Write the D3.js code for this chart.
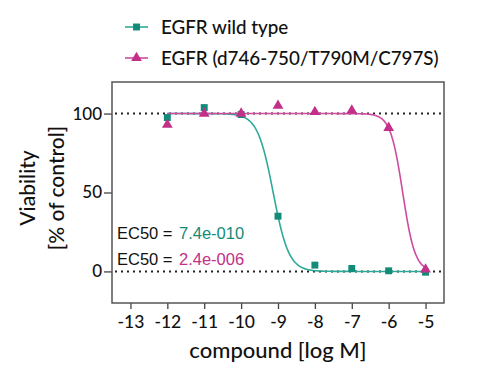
<!DOCTYPE html>
<html>
<head>
<meta charset="utf-8">
<script src="https://cdn.jsdelivr.net/npm/d3@7"></script>
<style>
  body { margin: 0; background: #fff; }
  text { font-family: Lato, "Open Sans", sans-serif; font-weight: 500; }
</style>
</head>
<body>
<svg id="chart" width="500" height="378"></svg>
<script>
// log concentrations
const logConc = [-12, -11, -10, -9, -8, -7, -6, -5];
// viability readings (% of control)
const wildType = [97.5, 103.8, 99.4, 35, 4, 1.9, 0.4, -0.5];
const mutant = [93, 100, 100, 105, 101, 102, 91, 1.3];
const xTicks = [-13, -12, -11, -10, -9, -8, -7, -6, -5];
const yTicks = [0, 50, 100];
const seriesNames = ['EGFR wild type', 'EGFR (d746-750/T790M/C797S)'];
// fitted curve parameters: EC50 and hill slope
const ec50 = [7.4e-10, 2.4e-6];
const ec50Labels = ['7.4e-010', '2.4e-006'];
const hill = [2.05, 2.6];

const teal = '#128b79', tealLine = '#2faa99';
const pink = '#c2308a', pinkLine = '#cf4b9f';

const width = 500, height = 378;
const margin = { top: 82, right: 56, bottom: 75, left: 112 };

const svg = d3.select('#chart');

const x = d3.scaleLinear()
  .domain([-13.5, -4.5])
  .range([margin.left, width - margin.right]);

const y = d3.scaleLinear()
  .domain([-20, 120])
  .range([height - margin.bottom, margin.top]);

// reference lines at 0 and 100
svg.selectAll('.ref')
  .data([0, 100])
  .enter().append('line')
  .attr('x1', x.range()[0] + 3)
  .attr('x2', x.range()[1] - 3)
  .attr('y1', d => y(d))
  .attr('y2', d => y(d))
  .attr('stroke', '#222')
  .attr('stroke-width', 2)
  .attr('stroke-dasharray', '2,4');

// axes
const xAxis = svg.append('g')
  .attr('transform', `translate(0,${y.range()[0]})`)
  .call(d3.axisBottom(x).tickValues(xTicks).tickSize(6).tickPadding(7).tickFormat(d => d));
xAxis.select('.domain').remove();
xAxis.selectAll('line').attr('stroke', '#444').attr('stroke-width', 1.3);
xAxis.selectAll('text').attr('font-size', 17.5).attr('fill', '#111');

const yAxis = svg.append('g')
  .attr('transform', `translate(${x.range()[0]},0)`)
  .call(d3.axisLeft(y).tickValues(yTicks).tickSize(8).tickPadding(2));
yAxis.select('.domain').remove();
yAxis.selectAll('line').attr('stroke', '#444').attr('stroke-width', 1.3);
yAxis.selectAll('text').attr('font-size', 17).attr('fill', '#111');

// plot box
svg.append('rect')
  .attr('x', x.range()[0])
  .attr('y', y.range()[1])
  .attr('width', x.range()[1] - x.range()[0])
  .attr('height', y.range()[0] - y.range()[1])
  .attr('fill', 'none')
  .attr('stroke', '#555')
  .attr('stroke-width', 1.5);

// fitted curves
const series = [
  { values: wildType, color: teal, line: tealLine, shape: d3.symbolSquare, size: 48 },
  { values: mutant, color: pink, line: pinkLine, shape: d3.symbolTriangle, size: 50 }
];

const line = d3.line().x(d => x(d[0])).y(d => y(d[1])).curve(d3.curveBasis);
series.forEach((s, i) => {
  const logEc = Math.log10(ec50[i]);
  const pts = d3.range(logConc[0], logConc[logConc.length - 1] + 0.001, 0.02)
    .map(v => [v, 100 / (1 + Math.pow(10, (v - logEc) * hill[i]))]);
  svg.append('path')
    .attr('d', line(pts))
    .attr('fill', 'none')
    .attr('stroke', s.line)
    .attr('stroke-width', 1.6);
});

series.forEach(s => {
  svg.append('g').selectAll('path')
    .data(s.values)
    .enter().append('path')
    .attr('d', d3.symbol().type(s.shape).size(s.size))
    .attr('transform', (d, j) => `translate(${x(logConc[j])},${y(d)})`)
    .attr('fill', s.color);
});

// EC50 labels
series.forEach((s, i) => {
  const t = svg.append('text')
    .attr('x', 117)
    .attr('y', 239 + i * 26)
    .attr('font-size', 16.5)
    .style('font-family', '"Liberation Sans", Arial, sans-serif')
    .style('font-weight', 400);
  t.append('tspan').attr('fill', '#111').text('EC50 = ');
  t.append('tspan').attr('fill', s.color).attr('x', 179).text(ec50Labels[i]);
});

// legend
series.forEach((s, i) => {
  const ly = 27 + i * 31;
  const g = svg.append('g');
  g.append('line')
    .attr('x1', 125).attr('x2', 148)
    .attr('y1', ly).attr('y2', ly)
    .attr('stroke', s.line).attr('stroke-width', 1.6);
  g.append('path')
    .attr('d', d3.symbol().type(s.shape).size(s.size))
    .attr('transform', `translate(136.5,${ly})`)
    .attr('fill', s.color);
  g.append('text')
    .attr('x', 161).attr('y', ly)
    .attr('dy', '0.35em')
    .attr('font-size', 18.8)
    .attr('fill', '#111')
    .text(seriesNames[i]);
});

// axis titles
svg.append('text')
  .attr('x', 278).attr('y', 358)
  .attr('text-anchor', 'middle')
  .attr('font-size', 22)
  .attr('fill', '#111')
  .text('compound [log M]');

const yTitle = svg.append('text')
  .attr('transform', 'translate(0,188) rotate(-90)')
  .attr('text-anchor', 'middle')
  .attr('font-size', 21)
  .attr('fill', '#111');
yTitle.append('tspan').attr('x', 0).attr('y', 35).text('Viability');
yTitle.append('tspan').attr('x', 0).attr('y', 64).text('[% of control]');
</script>
</body>
</html>
